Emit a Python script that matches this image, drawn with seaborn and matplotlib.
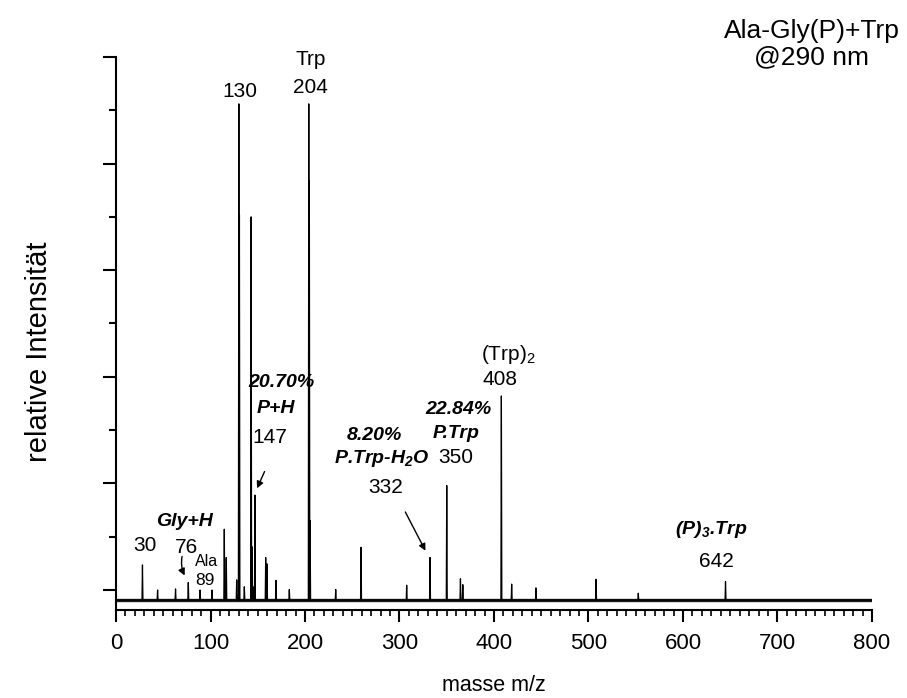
import numpy as np
import pandas as pd
import seaborn as sns
import matplotlib
matplotlib.use("Agg")
import matplotlib.pyplot as plt
from matplotlib.ticker import MultipleLocator

# Peaks (m/z, relative intensity)
peak_mz = [28, 44, 63, 76.5, 89, 101.6, 114.6, 116.7, 127.7, 130, 130.6, 135.8,
           143, 144, 145, 147, 158.4, 159.8, 169.3, 183.4, 204, 204.6, 205.4,
           232.5, 259.3, 307.6, 332.3, 350, 364.5, 367, 407.8, 418.7, 444.4,
           508, 552.7, 645]
peak_int = [4.7, 0.0, 0.2, 1.4, 0.0, 0.0, 11.4, 6.1, 1.9, 91.2, 70.4, 0.6,
            70.0, 8.1, 0.6, 17.8, 6.1, 4.9, 1.8, 0.1, 91.2, 76.7, 13.0,
            0.1, 8.0, 0.9, 6.1, 19.6, 2.1, 1.0, 36.4, 1.1, 0.4,
            2.0, -0.6, 1.6]
baseline = -1.9
mz_range = [0, 800]

# build a stick trace
xs, ys = [mz_range[0]], [baseline]
for m, h in zip(peak_mz, peak_int):
    xs += [m - 0.5, m, m + 0.5]
    ys += [baseline, h, baseline]
xs.append(mz_range[1])
ys.append(baseline)
df = pd.DataFrame({"mz": xs, "intensity": ys})

sns.set_style("ticks")
plt.rcParams["font.family"] = ["Liberation Sans", "DejaVu Sans"]
plt.rcParams["mathtext.fontset"] = "custom"
plt.rcParams["mathtext.rm"] = "Liberation Sans"
plt.rcParams["mathtext.it"] = "Liberation Sans:italic"
plt.rcParams["mathtext.bf"] = "Liberation Sans:bold:italic"
for k in ["text.color", "axes.labelcolor", "xtick.color", "ytick.color", "axes.edgecolor"]:
    plt.rcParams[k] = "black"

fig = plt.figure(figsize=(9.07, 6.98), dpi=100)
ax = fig.add_axes([0.1279, 0.1261, 0.8335, 0.7923])

# baseline band to mimic the noise
ax.plot(mz_range, [baseline, baseline], color="#1a1a1a", lw=2.4, solid_capstyle="butt")
sns.lineplot(data=df, x="mz", y="intensity", sort=False, estimator=None,
             color="black", lw=0.9, ax=ax)

ax.set_xlim(0, 800)
ax.set_ylim(-3.75, 100)
sns.despine(ax=ax)
for s in ["left", "bottom"]:
    ax.spines[s].set_linewidth(1.5)

ax.xaxis.set_major_locator(MultipleLocator(100))
ax.xaxis.set_minor_locator(MultipleLocator(10))
ax.yaxis.set_major_locator(MultipleLocator(20))
ax.yaxis.set_minor_locator(MultipleLocator(10))
ax.tick_params(axis="x", which="major", direction="out", length=8.6, width=1.5,
               labelsize=16, pad=8)
ax.tick_params(axis="x", which="minor", direction="out", length=4.3, width=1.2)
ax.tick_params(axis="y", which="major", direction="out", length=9.1, width=1.5,
               labelleft=False)
ax.tick_params(axis="y", which="minor", direction="out", length=5, width=1.5)

ax.set_xlabel("masse m/z", fontsize=15.5)
ax.xaxis.set_label_coords(0.5, -0.117)
ax.set_ylabel("relative Intensität", fontsize=21)
ax.yaxis.set_label_coords(-0.084, 0.467)

fig.text(0.895, 0.937, "Ala-Gly(P)+Trp\n@290 nm", ha="center", va="center",
         fontsize=19, linespacing=1.15)

num = dict(ha="center", va="center", fontsize=15)
bi = dict(ha="center", va="center", fontsize=14, fontweight="bold", style="italic")

ax.text(131, 93.5, "130", **num)
ax.text(206, 99.5, "Trp", **num)
ax.text(206, 94.3, "204", **num)

ax.text(174.6, 39, "20.70%", **bi)
ax.text(169, 34, "P+H", **bi)
ax.text(163, 28.7, "147", **num)
ax.annotate("", xy=(148.1, 18.6), xytext=(158.4, 22.7),
            arrowprops=dict(arrowstyle="-|>", color="black", lw=1, mutation_scale=10))

ax.text(30.7, 8.4, "30", **num)
ax.text(72, 12.8, "Gly+H", **bi)
ax.text(75, 7.9, "76", **num)
ax.annotate("", xy=(74, 2.25), xytext=(70.5, 6.8),
            arrowprops=dict(arrowstyle="-|>", color="black", lw=1, mutation_scale=10,
                            connectionstyle="arc3,rad=0.2"))
ax.text(96.3, 5.4, "Ala", ha="center", va="center", fontsize=11.5)
ax.text(94.2, 1.7, "89", ha="center", va="center", fontsize=12.5)

ax.text(273, 28.9, "8.20%", **bi)
ax.text(281.2, 24.6, r"P.Trp-H$_\mathbf{2}$O", **bi)
ax.text(285.7, 19.3, "332", **num)
ax.annotate("", xy=(328.8, 6.9), xytext=(304.8, 15.1),
            arrowprops=dict(arrowstyle="-|>", color="black", lw=1, mutation_scale=10))

ax.text(362.2, 33.8, "22.84%", **bi)
ax.text(360.4, 29.3, "P.Trp", **bi)
ax.text(359.8, 24.8, "350", **num)

ax.text(415.2, 44.1, r"(Trp)$_2$", **num)
ax.text(406.3, 39.5, "408", **num)

ax.text(630.3, 11.3, r"(P)$_\mathbf{3}$.Trp", **bi)
ax.text(635.5, 5.3, "642", **num)

fig.savefig("out.png", dpi=100)
